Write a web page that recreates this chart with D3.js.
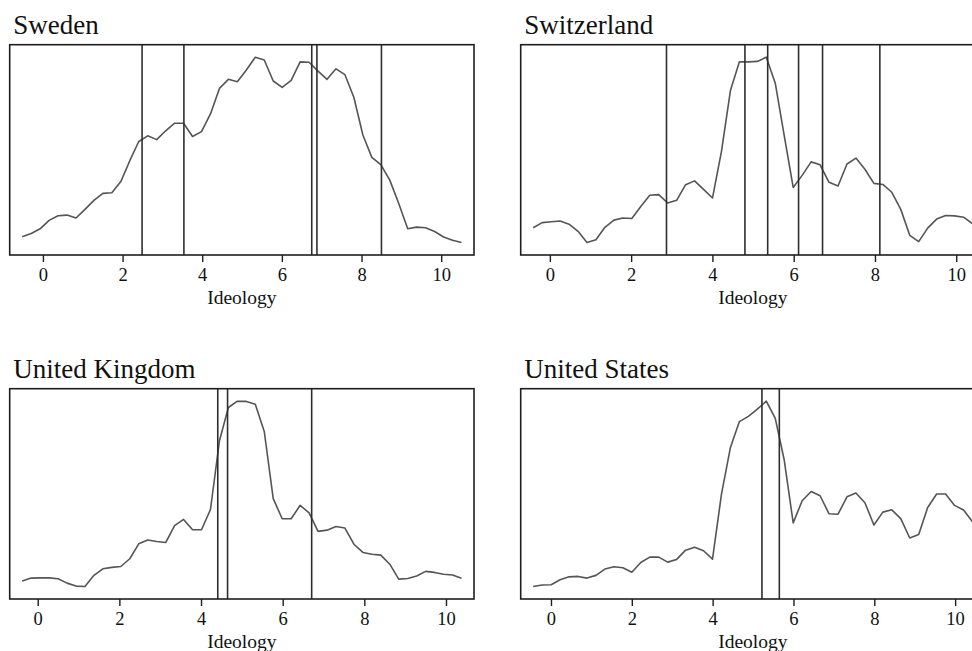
<!DOCTYPE html>
<html>
<head>
<meta charset="utf-8">
<script src="https://cdn.jsdelivr.net/npm/d3@7"></script>
<style>
  html, body { margin: 0; padding: 0; background: #fff; }
  svg { display: block; }
  text { font-family: "Liberation Serif", "Times New Roman", Times, serif; fill: #111; }
</style>
</head>
<body>
<svg id="chart" width="972" height="651"></svg>
<script>
// Kernel density of respondent ideology (50 evaluation points per country),
// with party positions drawn as vertical reference lines.
const countries = ["Sweden", "Switzerland", "United Kingdom", "United States"];

// evaluation grid endpoints (min, max of ideology) for each country
const swedenGrid = [-0.52, 10.51];
const switzerlandGrid = [-0.41, 10.40];
const ukGrid = [-0.38, 10.38];
const usGrid = [-0.44, 10.43];

// relative density at each grid point
const swedenDensity = [0.087,0.103,0.125,0.165,0.187,0.190,0.176,0.217,0.260,0.293,
  0.296,0.349,0.448,0.539,0.566,0.548,0.590,0.626,0.626,0.563,
  0.586,0.670,0.791,0.834,0.823,0.878,0.939,0.926,0.826,0.796,
  0.829,0.917,0.915,0.873,0.834,0.884,0.856,0.748,0.570,0.464,
  0.429,0.356,0.245,0.125,0.133,0.130,0.112,0.086,0.071,0.060];
const switzerlandDensity = [0.130,0.154,0.158,0.162,0.147,0.113,0.060,0.073,0.132,0.166,
  0.176,0.174,0.231,0.284,0.287,0.247,0.260,0.334,0.352,0.312,
  0.271,0.492,0.780,0.916,0.916,0.918,0.938,0.815,0.566,0.321,
  0.378,0.442,0.428,0.345,0.328,0.432,0.460,0.407,0.340,0.335,
  0.298,0.217,0.094,0.064,0.128,0.171,0.188,0.186,0.180,0.150];
const ukDensity = [0.086,0.100,0.101,0.101,0.097,0.076,0.062,0.060,0.113,0.144,
  0.151,0.155,0.192,0.263,0.281,0.274,0.269,0.349,0.379,0.330,
  0.330,0.426,0.753,0.911,0.941,0.940,0.927,0.797,0.478,0.382,
  0.382,0.446,0.410,0.322,0.328,0.345,0.338,0.261,0.222,0.213,
  0.209,0.166,0.095,0.098,0.110,0.132,0.127,0.118,0.115,0.099];
const usDensity = [0.060,0.067,0.068,0.092,0.106,0.108,0.100,0.113,0.143,0.154,
  0.149,0.128,0.174,0.200,0.200,0.176,0.189,0.233,0.247,0.230,
  0.190,0.500,0.722,0.845,0.870,0.904,0.942,0.860,0.662,0.363,
  0.468,0.512,0.492,0.406,0.404,0.487,0.505,0.459,0.353,0.414,
  0.425,0.383,0.291,0.307,0.436,0.500,0.500,0.446,0.424,0.368];

// party positions on the ideology scale
const swedenParties = [2.49, 3.54, 6.75, 6.88, 8.50];
const switzerlandParties = [2.87, 4.80, 5.36, 6.12, 6.71, 8.12];
const ukParties = [4.41, 4.65, 6.71];
const usParties = [5.22, 5.65];

const xTicks = [0, 2, 4, 6, 8, 10];
const xTitle = "Ideology";

const panelData = [
  { name: countries[0], grid: swedenGrid, density: swedenDensity, parties: swedenParties },
  { name: countries[1], grid: switzerlandGrid, density: switzerlandDensity, parties: switzerlandParties },
  { name: countries[2], grid: ukGrid, density: ukDensity, parties: ukParties },
  { name: countries[3], grid: usGrid, density: usDensity, parties: usParties }
];

// layout
const boxW = 464.3, boxH = 210.3;
const colX = [9.7, 520.7];
const rowY = [44.7, 388.7];
const inner = 12.5; // plot region margin inside the frame

const svg = d3.select("#chart");

panelData.forEach((p, i) => {
  const left = colX[i % 2], top = rowY[Math.floor(i / 2)];
  const right = left + boxW, bottom = top + boxH;

  const n = p.density.length;
  const step = (p.grid[1] - p.grid[0]) / (n - 1);
  const pts = p.density.map((d, k) => ({ x: p.grid[0] + k * step, y: d }));

  const x = d3.scaleLinear().domain(p.grid).range([left + inner, right - inner]);
  const y = d3.scaleLinear().domain(d3.extent(p.density)).range([bottom - inner, top + inner]);

  const g = svg.append("g");

  // title
  g.append("text")
    .attr("x", left + 3.5)
    .attr("y", top - 11.2)
    .attr("font-size", 27)
    .text(p.name);

  // density curve
  g.append("path")
    .datum(pts)
    .attr("fill", "none")
    .attr("stroke", "#555")
    .attr("stroke-width", 1.6)
    .attr("stroke-linejoin", "round")
    .attr("d", d3.line().x(d => x(d.x)).y(d => y(d.y)));

  // party positions
  g.selectAll("line.party")
    .data(p.parties)
    .join("line")
    .attr("class", "party")
    .attr("x1", d => x(d)).attr("x2", d => x(d))
    .attr("y1", top).attr("y2", bottom)
    .attr("stroke", "#2e2e2e")
    .attr("stroke-width", 1.6);

  // frame
  g.append("rect")
    .attr("x", left).attr("y", top)
    .attr("width", boxW).attr("height", boxH)
    .attr("fill", "none")
    .attr("stroke", "#1e1e1e")
    .attr("stroke-width", 1.6);

  // x axis
  const axis = d3.axisBottom(x)
    .tickValues(xTicks)
    .tickFormat(d3.format("d"))
    .tickSize(7)
    .tickPadding(6);
  const ax = g.append("g")
    .attr("transform", `translate(0,${bottom})`)
    .call(axis);
  ax.select(".domain").remove();
  ax.selectAll(".tick line").attr("stroke", "#1e1e1e").attr("stroke-width", 1.4);
  ax.selectAll(".tick text")
    .attr("font-size", 18.5)
    .attr("font-family", "Liberation Serif, Times New Roman, serif")
    .attr("fill", "#111");

  g.append("text")
    .attr("x", (left + right) / 2)
    .attr("y", bottom + 49)
    .attr("text-anchor", "middle")
    .attr("font-size", 19.5)
    .text(xTitle);
});
</script>
</body>
</html>
